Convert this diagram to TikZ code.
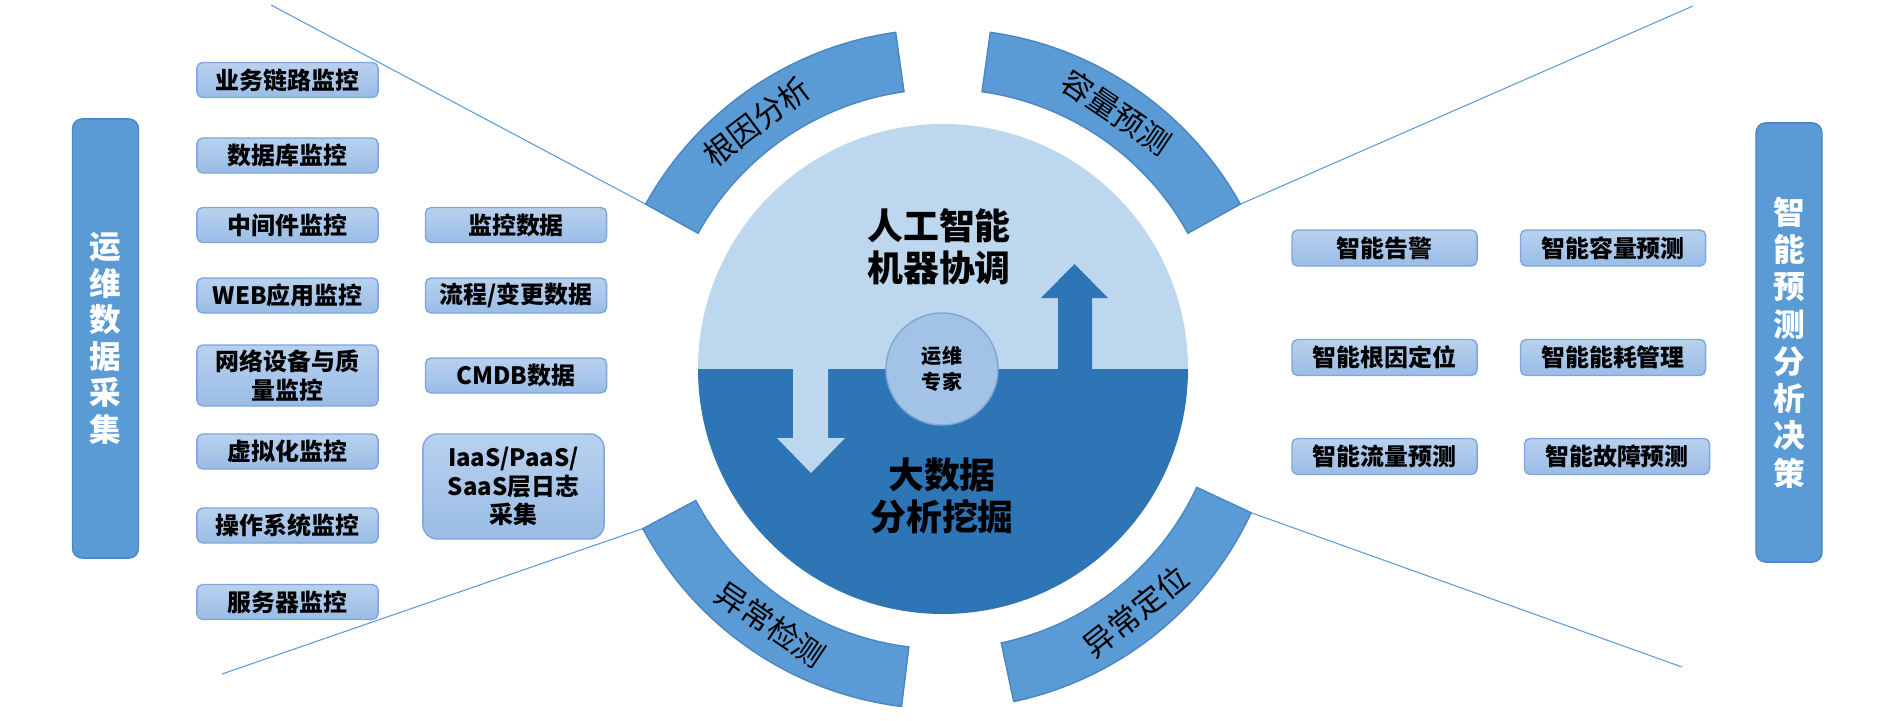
\documentclass[tikz,border=0pt]{standalone}
\usepackage{fontspec}
\setmainfont{Noto Sans CJK SC}
\usetikzlibrary{positioning}
\definecolor{segblue}{HTML}{5B9BD5}
\definecolor{segline}{HTML}{4A86C4}
\definecolor{lightcirc}{HTML}{BDD7EE}
\definecolor{darkcirc}{HTML}{2E75B6}
\definecolor{expertfill}{HTML}{A2C2E6}
\definecolor{expertline}{HTML}{7EA6D8}
\definecolor{boxtop}{HTML}{B9D1EE}
\definecolor{boxbot}{HTML}{99BCE6}
\definecolor{boxline}{HTML}{7DA7DA}

\begin{document}
\begin{tikzpicture}[x=0.01cm, y=0.01cm, node distance=0.46cm,
  box/.style={draw=boxline, top color=boxtop, bottom color=boxbot, rounded corners=1.6pt, align=center, inner sep=0pt, minimum width=1.81cm, minimum height=0.35cm, font=\fontsize{6.8pt}{8.2pt}\selectfont\bfseries},
  rbox/.style={box, minimum width=1.85cm, minimum height=0.36cm},
  sidebar/.style={draw=segline, fill=segblue, rounded corners=2.8pt, align=center, text=white, minimum width=0.66cm, minimum height=4.39cm, font=\fontsize{9pt}{10.4pt}\selectfont\bfseries},
  seg/.style={draw=segline, fill=segblue, line width=0.4pt},
  seglabel/.style={font=\fontsize{8.8pt}{10pt}\selectfont},
  bigtext/.style={align=center, font=\fontsize{10.2pt}{11.9pt}\selectfont\bfseries},
  guide/.style={draw=segblue, line width=0.3pt}]
\useasboundingbox (0,0) rectangle (1890,720);
\coordinate (ctr) at (943,351);

% thin guide lines
\coordinate (ulEnd) at (271,715);
\coordinate (llEnd) at (222,46);
\coordinate (urEnd) at (1693,714);
\coordinate (lrEnd) at (1682,53);
\coordinate (rootOut) at ([shift={(151:340)}]ctr);
\coordinate (capOut) at ([shift={(29:340)}]ctr);
\coordinate (detOut) at ([shift={(208:340)}]ctr);
\coordinate (locOut) at ([shift={(335:340)}]ctr);
\draw[guide] (ulEnd) -- (rootOut);
\draw[guide] (llEnd) -- (detOut);
\draw[guide] (urEnd) -- (capOut);
\draw[guide] (lrEnd) -- (locOut);

% ring segments
\draw[seg] ([shift={(98:340)}]ctr) arc[start angle=98, end angle=151, radius=340] -- ([shift={(151:280)}]ctr) arc[start angle=151, end angle=98, radius=280] -- cycle;
\draw[seg] ([shift={(29:340)}]ctr) arc[start angle=29, end angle=82, radius=340] -- ([shift={(82:280)}]ctr) arc[start angle=82, end angle=29, radius=280] -- cycle;
\draw[seg] ([shift={(208:340)}]ctr) arc[start angle=208, end angle=263, radius=340] -- ([shift={(263:280)}]ctr) arc[start angle=263, end angle=208, radius=280] -- cycle;
\draw[seg] ([shift={(282:340)}]ctr) arc[start angle=282, end angle=335, radius=340] -- ([shift={(335:280)}]ctr) arc[start angle=335, end angle=282, radius=280] -- cycle;
\node[seglabel, rotate=37] (rootLbl) at ([shift={(127:310)}]ctr) {根因分析};
\node[seglabel, rotate=-34] (capLbl) at ([shift={(56:310)}]ctr) {容量预测};
\node[seglabel, rotate=-34] (detLbl) at ([shift={(236:308)}]ctr) {异常检测};
\node[seglabel, rotate=38.5] (locLbl) at ([shift={(308.5:310)}]ctr) {异常定位};

% central disc
\fill[lightcirc] ([shift={(0:245)}]ctr) arc[start angle=0, end angle=180, radius=245] -- cycle;
\fill[darkcirc] ([shift={(180:245)}]ctr) arc[start angle=180, end angle=360, radius=245] -- cycle;
\fill[darkcirc] (1058,349) -- (1058,422) -- (1041,422) -- (1074.5,456) -- (1108,422) -- (1092,422) -- (1092,349) -- cycle;
\fill[lightcirc] (793,353) -- (793,282) -- (777,282) -- (811,247) -- (845,282) -- (828,282) -- (828,353) -- cycle;
\node[circle, draw=expertline, fill=expertfill, minimum size=1.12cm, inner sep=0pt, align=center, font=\fontsize{5.7pt}{7.4pt}\selectfont\bfseries] (expert) at (942,351) {运维\\专家};
\node[bigtext] (ai) at (939,473) {人工智能\\机器协调};
\node[bigtext] (bigdata) at (942,224) {大数据\\分析挖掘};

% data sources
\node[box] (biz) at (287.5,640) {业务链路监控};
\node[box] (db) at (287.5,564.5) {数据库监控};
\node[box] (mw) at (287.5,495) {中间件监控};
\node[box] (web) at (287.5,424.5) {WEB应用监控};
\node[box, minimum height=0.61cm] (net) at (287.5,344.5) {网络设备与质\\量监控};
\node[box] (virt) at (287.5,268.5) {虚拟化监控};
\node[box] (os) at (287.5,194.5) {操作系统监控};
\node[box] (srv) at (287.5,118) {服务器监控};
\node[box, right=of mw] (mon) {监控数据};
\node[box, right=of web] (flow) {流程/变更数据};
\node[box, right=of net] (cmdb) {CMDB数据};
\node[box, minimum height=1.05cm, rounded corners=4pt] (logs) at (513.5,233.5) {IaaS/PaaS/\\SaaS层日志\\采集};

% decisions
\node[rbox] (alarm) at (1384.5,472) {智能告警};
\node[rbox, right=0.42cm of alarm] (capfc) {智能容量预测};
\node[rbox] (rca) at (1384.5,362.5) {智能根因定位};
\node[rbox, right=0.42cm of rca] (energy) {智能能耗管理};
\node[rbox] (traffic) at (1384.5,263.5) {智能流量预测};
\node[rbox, right=of traffic] (fault) {智能故障预测};

\node[sidebar] (collect) at (105.5,381.5) {运\\维\\数\\据\\采\\集};
\node[sidebar, font=\fontsize{9pt}{10.6pt}\selectfont\bfseries] (decide) at (1789,377.5) {智\\能\\预\\测\\分\\析\\决\\策};
\end{tikzpicture}
\end{document}
